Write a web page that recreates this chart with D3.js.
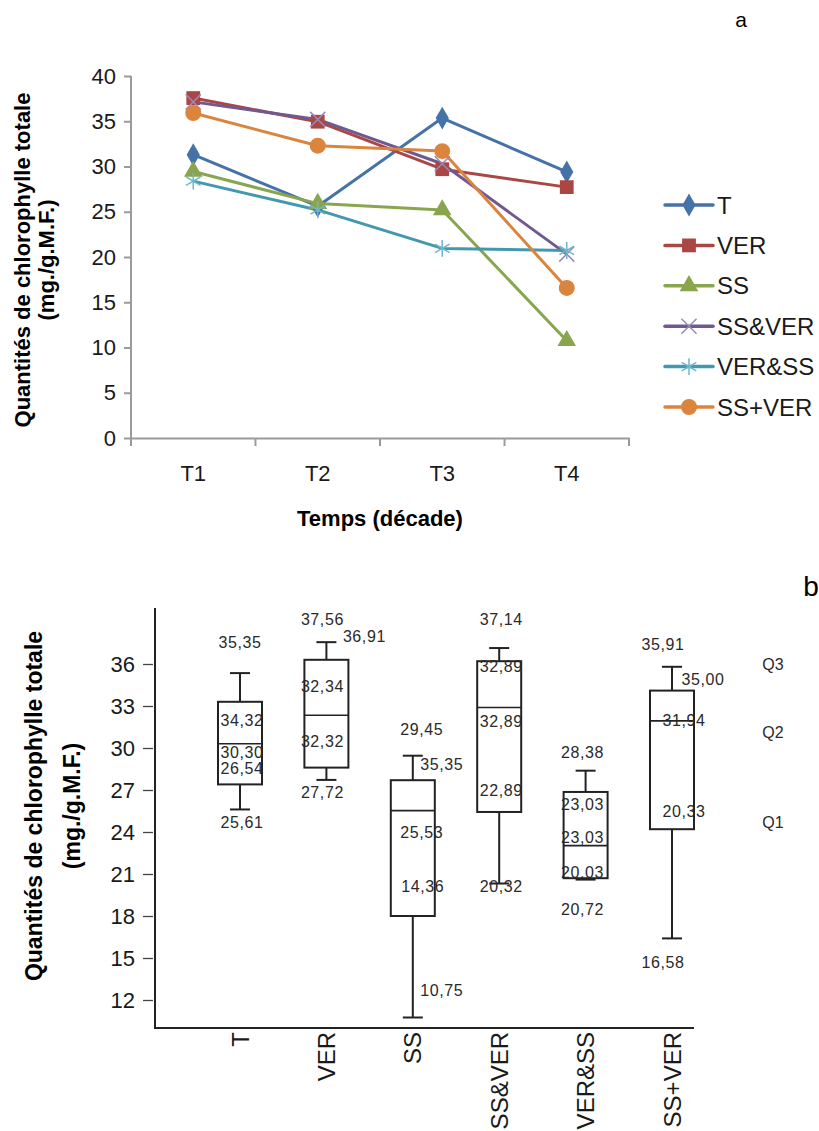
<!DOCTYPE html>
<html>
<head>
<meta charset="utf-8">
<script src="https://cdn.jsdelivr.net/npm/d3@7"></script>
<style>
  body { margin: 0; background: #fff; }
  svg { display: block; font-family: Arial, "Liberation Sans", sans-serif; }
</style>
</head>
<body>
<svg id="chart" width="819" height="1131"></svg>
<script>
// ---- data: chart a (lines) ----
const periods = ["T1", "T2", "T3", "T4"];
const seriesNames = ["T", "VER", "SS", "SS&VER", "VER&SS", "SS+VER"];
const valT = [31.3, 25.61, 35.35, 29.4];
const valVER = [37.56, 34.95, 29.7, 27.72];
const valSS = [29.45, 25.9, 25.2, 10.75];
const valSSVER = [37.14, 35.2, 30.3, 20.32];
const valVERSS = [28.38, 25.2, 20.95, 20.72];
const valSSplusVER = [35.91, 32.3, 31.7, 16.58];
const yTicksA = [0, 5, 10, 15, 20, 25, 30, 35, 40];

// ---- data: chart b (box plots) ----
const groups = ["T", "VER", "SS", "SS&VER", "VER&SS", "SS+VER"];
const whiskerHigh = [35.35, 37.56, 29.45, 37.14, 28.38, 35.8];
const q3 = [33.3, 36.3, 27.7, 36.2, 26.86, 34.1];
const median = [30.3, 32.34, 25.53, 32.89, 23.03, 31.94];
const q1 = [27.4, 28.6, 18.0, 25.43, 20.7, 24.2];
const whiskerLow = [25.61, 27.72, 10.75, 20.32, 20.6, 16.4];
const yTicksB = [12, 15, 18, 21, 24, 27, 30, 33, 36];
// value labels printed on the boxes: [group, text, y value, x shift]
const boxLabels = [
  ["T", "35,35", 35.35 + 2.2, 0], ["T", "34,32", 32.0, 2], ["T", "30,30", 29.7, 2],
  ["T", "26,54", 28.55, 2], ["T", "25,61", 24.7, 2],
  ["VER", "37,56", 39.2, -4], ["VER", "36,91", 38.0, 38], ["VER", "32,34", 34.4, -4],
  ["VER", "32,32", 30.5, -4], ["VER", "27,72", 26.8, -4],
  ["SS", "29,45", 31.3, 9], ["SS", "35,35", 28.8, 29], ["SS", "25,53", 24.0, 9],
  ["SS", "14,36", 20.1, 10], ["SS", "10,75", 12.7, 29],
  ["SS&VER", "37,14", 39.2, 2], ["SS&VER", "32,89", 35.8, 2], ["SS&VER", "32,89", 31.9, 2],
  ["SS&VER", "22,89", 27.0, 2], ["SS&VER", "20,32", 20.1, 2],
  ["VER&SS", "28,38", 29.7, -3], ["VER&SS", "23,03", 26.0, -3], ["VER&SS", "23,03", 23.6, -3],
  ["VER&SS", "20,03", 21.1, -3], ["VER&SS", "20,72", 18.5, -3],
  ["SS+VER", "35,91", 37.4, -9], ["SS+VER", "35,00", 34.9, 31], ["SS+VER", "31,94", 32.0, 12],
  ["SS+VER", "20,33", 25.5, 12], ["SS+VER", "16,58", 14.7, -9]
];
const quartileNames = ["Q3", "Q2", "Q1"];
const quartileAt = [36.0, 31.1, 24.7];

const colors = ["#4572A7", "#AA4643", "#89A54E", "#71588F", "#4198AF", "#DB843D"];
const markerColors = ["#4572A7", "#AA4643", "#89A54E", "#9a88b6", "#6fb6ca", "#DB843D"];
const allSeries = [valT, valVER, valSS, valSSVER, valVERSS, valSSplusVER];

const svg = d3.select("#chart");

// ================= chart a =================
const xA = d3.scaleBand().domain(periods).range([131, 629]);
const yA = d3.scaleLinear().domain([0, 40]).range([438, 76]);

const axisGrey = "#9a9a9a";
const gxA = svg.append("g")
  .attr("transform", "translate(0,438)")
  .call(d3.axisBottom(xA).tickSize(0).tickPadding(27));
gxA.select(".domain").attr("stroke", axisGrey).attr("stroke-width", 2);
gxA.selectAll("text").attr("font-size", 22).attr("fill", "#1a1a1a")
  .attr("font-family", "Arial, 'Liberation Sans', sans-serif");
// category separators below axis
svg.append("g").selectAll("line")
  .data(periods.concat(["end"]))
  .enter().append("line")
  .attr("x1", (d, i) => 131 + i * xA.bandwidth())
  .attr("x2", (d, i) => 131 + i * xA.bandwidth())
  .attr("y1", 438).attr("y2", 446)
  .attr("stroke", axisGrey).attr("stroke-width", 2);

const gyA = svg.append("g")
  .attr("transform", "translate(131,0)")
  .call(d3.axisLeft(yA).tickValues(yTicksA).tickSize(7).tickPadding(8));
gyA.select(".domain").attr("stroke", axisGrey).attr("stroke-width", 2).attr("d", "M0,438V76");
gyA.selectAll(".tick line").attr("stroke", axisGrey).attr("stroke-width", 2);
gyA.selectAll("text").attr("font-size", 22).attr("fill", "#1a1a1a")
  .attr("font-family", "Arial, 'Liberation Sans', sans-serif");

// axis titles
svg.append("text")
  .attr("x", 380).attr("y", 526)
  .attr("text-anchor", "middle")
  .attr("font-size", 22).attr("font-weight", "bold")
  .text("Temps (décade)");

const titleA = svg.append("text")
  .attr("transform", "translate(22,260) rotate(-90)")
  .attr("text-anchor", "middle")
  .attr("font-size", 22).attr("font-weight", "bold");
titleA.append("tspan").attr("x", 0).attr("dy", "0.35em").text("Quantités de chlorophylle totale");
titleA.append("tspan").attr("x", 0).attr("dy", "1.1em").text("(mg./g.M.F.)");

svg.append("text").attr("x", 741).attr("y", 27).attr("text-anchor", "middle")
  .attr("font-size", 21).text("a");

const symbols = [d3.symbolDiamond, d3.symbolSquare, d3.symbolTriangle, d3.symbolX, d3.symbolAsterisk, d3.symbolCircle];
const symSizes = [150, 190, 150, 150, 200, 200];
const line = d3.line().x((d, i) => xA(periods[i]) + xA.bandwidth() / 2).y(d => yA(d));

allSeries.forEach((vals, s) => {
  svg.append("path")
    .attr("d", line(vals))
    .attr("fill", "none")
    .attr("stroke", colors[s])
    .attr("stroke-width", 3)
    .attr("stroke-linejoin", "round");
});

function drawMarker(g, s, x, y) {
  const stroked = s === 3 || s === 4;
  g.append("path")
    .attr("transform", `translate(${x},${y})`)
    .attr("d", d3.symbol().type(symbols[s]).size(symSizes[s])())
    .attr("fill", stroked ? "none" : markerColors[s])
    .attr("stroke", markerColors[s])
    .attr("stroke-width", stroked ? 1.5 : 0);
}

allSeries.forEach((vals, s) => {
  vals.forEach((v, i) => drawMarker(svg, s, xA(periods[i]) + xA.bandwidth() / 2, yA(v)));
});

// legend
const legend = svg.append("g");
seriesNames.forEach((name, s) => {
  const y = 205 + s * 40.4;
  legend.append("line")
    .attr("x1", 665).attr("x2", 713).attr("y1", y).attr("y2", y)
    .attr("stroke", colors[s]).attr("stroke-width", 3.5).attr("stroke-linecap", "round");
  drawMarker(legend, s, 689, y);
  legend.append("text")
    .attr("x", 717).attr("y", y).attr("dy", "0.36em")
    .attr("font-size", 24).attr("fill", "#1a1a1a")
    .text(name);
});

// ================= chart b =================
const xB = d3.scalePoint().domain(groups).range([240, 672]);
const yB = d3.scaleLinear().domain([10, 40]).range([1028, 608]);
const ink = "#222";
const boxW = 44, capW = 20;

const gyB = svg.append("g")
  .attr("transform", "translate(155,0)")
  .call(d3.axisLeft(yB).tickValues(yTicksB).tickSize(10).tickPadding(10));
gyB.select(".domain").attr("stroke", ink).attr("stroke-width", 2).attr("d", "M0,608V1028");
gyB.selectAll(".tick line").attr("stroke", "#444").attr("stroke-width", 1.3).attr("x2", -12).attr("x1", -2);
gyB.selectAll("text").attr("font-size", 22).attr("fill", "#1a1a1a")
  .attr("font-family", "Arial, 'Liberation Sans', sans-serif");

svg.append("line")
  .attr("x1", 154).attr("x2", 694).attr("y1", 1028).attr("y2", 1028)
  .attr("stroke", ink).attr("stroke-width", 2);

// category labels, rotated
svg.append("g").selectAll("text")
  .data(groups)
  .enter().append("text")
  .attr("transform", d => `translate(${xB(d)},1032) rotate(-90)`)
  .attr("text-anchor", "end")
  .attr("dy", "0.36em")
  .attr("font-size", 24).attr("fill", "#1a1a1a")
  .text(d => d);

const boxes = svg.append("g").selectAll("g")
  .data(groups)
  .enter().append("g");

boxes.append("line")
  .attr("x1", d => xB(d)).attr("x2", d => xB(d))
  .attr("y1", (d, i) => yB(whiskerHigh[i])).attr("y2", (d, i) => yB(q3[i]))
  .attr("stroke", ink).attr("stroke-width", 2);
boxes.append("line")
  .attr("x1", d => xB(d)).attr("x2", d => xB(d))
  .attr("y1", (d, i) => yB(q1[i])).attr("y2", (d, i) => yB(whiskerLow[i]))
  .attr("stroke", ink).attr("stroke-width", 2);
boxes.append("line")
  .attr("x1", d => xB(d) - capW / 2).attr("x2", d => xB(d) + capW / 2)
  .attr("y1", (d, i) => yB(whiskerHigh[i])).attr("y2", (d, i) => yB(whiskerHigh[i]))
  .attr("stroke", ink).attr("stroke-width", 2);
boxes.append("line")
  .attr("x1", d => xB(d) - capW / 2).attr("x2", d => xB(d) + capW / 2)
  .attr("y1", (d, i) => yB(whiskerLow[i])).attr("y2", (d, i) => yB(whiskerLow[i]))
  .attr("stroke", ink).attr("stroke-width", 2);
boxes.append("rect")
  .attr("x", d => xB(d) - boxW / 2).attr("width", boxW)
  .attr("y", (d, i) => yB(q3[i])).attr("height", (d, i) => yB(q1[i]) - yB(q3[i]))
  .attr("fill", "none").attr("stroke", ink).attr("stroke-width", 2);
boxes.append("line")
  .attr("x1", d => xB(d) - boxW / 2).attr("x2", d => xB(d) + boxW / 2)
  .attr("y1", (d, i) => yB(median[i])).attr("y2", (d, i) => yB(median[i]))
  .attr("stroke", ink).attr("stroke-width", 1.6);

svg.append("g").selectAll("text")
  .data(boxLabels)
  .enter().append("text")
  .attr("x", d => xB(d[0]) + d[3])
  .attr("y", d => yB(d[2]))
  .attr("dy", "0.35em")
  .attr("text-anchor", "middle")
  .attr("font-size", 16).attr("letter-spacing", 0.6).attr("fill", "#2a2a2a")
  .text(d => d[1]);

svg.append("g").selectAll("text")
  .data(quartileNames)
  .enter().append("text")
  .attr("x", 773).attr("y", (d, i) => yB(quartileAt[i]))
  .attr("dy", "0.35em").attr("text-anchor", "middle")
  .attr("font-size", 16).attr("fill", "#2a2a2a")
  .text(d => d);

svg.append("text").attr("x", 811).attr("y", 596).attr("text-anchor", "middle")
  .attr("font-size", 28).text("b");

const titleB = svg.append("text")
  .attr("transform", "translate(34,806) rotate(-90)")
  .attr("text-anchor", "middle")
  .attr("font-size", 23).attr("font-weight", "bold");
titleB.append("tspan").attr("x", 0).attr("dy", "0.35em").text("Quantités de chlorophylle totale");
titleB.append("tspan").attr("x", 0).attr("dy", "1.65em").text("(mg./g.M.F.)");
</script>
</body>
</html>
